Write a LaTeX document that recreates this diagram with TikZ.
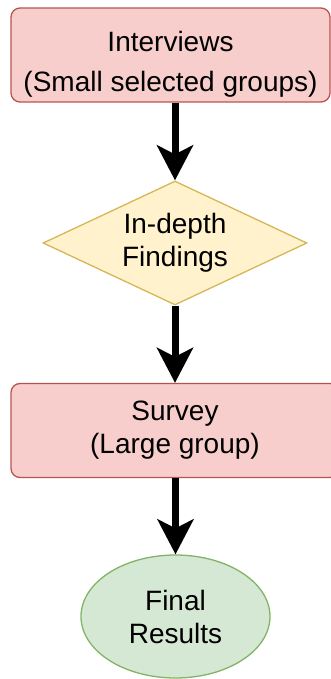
\documentclass[tikz,border=0pt]{standalone}
\usepackage{fontspec}
\setmainfont{Liberation Sans}
\usetikzlibrary{shapes.geometric,arrows.meta,positioning}

\definecolor{pinkfill}{HTML}{F8CECC}
\definecolor{pinkline}{HTML}{B85450}
\definecolor{yellowfill}{HTML}{FFF2CC}
\definecolor{yellowline}{HTML}{D6B656}
\definecolor{greenfill}{HTML}{D5E8D4}
\definecolor{greenline}{HTML}{82B366}

\tikzset{
  every node/.style={font=\fontsize{28}{33}\selectfont, align=center},
  stagebox/.style={rectangle, rounded corners=9pt, draw=pinkline, fill=pinkfill,
    line width=1.3pt, minimum height=94pt},
  decision/.style={diamond, draw=yellowline, fill=yellowfill, line width=1.3pt,
    inner sep=0pt, shape aspect=2.13, minimum width=264pt, minimum height=124pt},
  outcome/.style={ellipse, draw=greenline, fill=greenfill, line width=1.3pt,
    minimum width=189pt, minimum height=123pt},
  flow/.style={-{Stealth[length=35pt,width=36pt,inset=9pt]}, line width=7pt, black}
}

\begin{document}
\begin{tikzpicture}[x=1pt,y=1pt,node distance=187.5pt,on grid]
    \useasboundingbox (0,0) rectangle (331,-679);
    \node[stagebox, minimum width=319pt] (interviews) at (170.5,-55)
        {\raisebox{-16pt}[0pt][0pt]{\begin{tabular}{@{}c@{}}Interviews\\[7pt](Small selected groups)\end{tabular}}};
    \node[decision] (findings) [below=188pt of interviews, xshift=4.5pt] {In-depth\\Findings};
    \node[stagebox, minimum width=328pt] (survey)   [below=of findings]  {Survey\\(Large group)};
    \node[outcome]  (results)  [below=186pt of survey, xshift=0.5pt] {Final\\Results};
    \draw[flow] (findings.north |- interviews.south) -- (findings.north);
    \draw[flow] (findings.south) -- (findings.south |- survey.north);
    \draw[flow] (results.north |- survey.south) -- (results.north);
\end{tikzpicture}
\end{document}
